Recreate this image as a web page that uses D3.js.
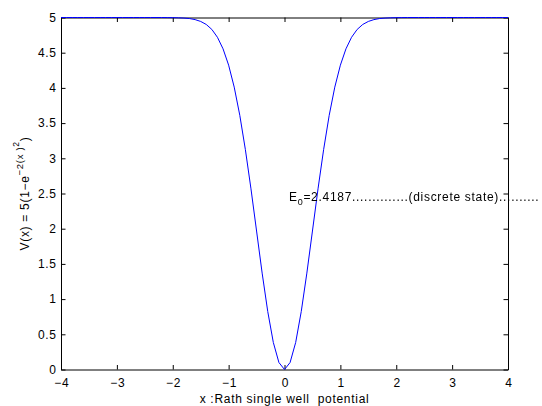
<!DOCTYPE html>
<html>
<head>
<meta charset="utf-8">
<script src="https://cdn.jsdelivr.net/npm/d3@7"></script>
<style>
  html, body { margin: 0; padding: 0; background: #fff; }
  #chart { position: relative; width: 542px; height: 406px; }
  svg { display: block; position: absolute; left: 0; top: 0; }
  svg.overlay { will-change: transform; }
  text { font-family: "Liberation Sans", Arial, Helvetica, sans-serif; letter-spacing: 0.7px; }
</style>
</head>
<body>
<div id="chart"></div>
<script>
// ---- data ----
const xValues = [
  -4.0,-3.9,-3.8,-3.7,-3.6,-3.5,-3.4,-3.3,-3.2,-3.1,
  -3.0,-2.9,-2.8,-2.7,-2.6,-2.5,-2.4,-2.3,-2.2,-2.1,
  -2.0,-1.9,-1.8,-1.7,-1.6,-1.5,-1.4,-1.3,-1.2,-1.1,
  -1.0,-0.9,-0.8,-0.7,-0.6,-0.5,-0.4,-0.3,-0.2,-0.1,
   0.0,
   0.1, 0.2, 0.3, 0.4, 0.5, 0.6, 0.7, 0.8, 0.9, 1.0,
   1.1, 1.2, 1.3, 1.4, 1.5, 1.6, 1.7, 1.8, 1.9, 2.0,
   2.1, 2.2, 2.3, 2.4, 2.5, 2.6, 2.7, 2.8, 2.9, 3.0,
   3.1, 3.2, 3.3, 3.4, 3.5, 3.6, 3.7, 3.8, 3.9, 4.0
];
const vValues = [
  5.000,5.000,5.000,5.000,5.000,5.000,5.000,5.000,5.000,5.000,
  5.000,5.000,5.000,5.000,5.000,5.000,5.000,5.000,5.000,4.999,
  4.998,4.996,4.992,4.985,4.970,4.944,4.901,4.830,4.719,4.555,
  4.323,4.011,3.610,3.123,2.566,1.967,1.369,0.824,0.384,0.099,
  0.000,
  0.099,0.384,0.824,1.369,1.967,2.566,3.123,3.610,4.011,4.323,
  4.555,4.719,4.830,4.901,4.944,4.970,4.985,4.992,4.996,4.998,
  4.999,5.000,5.000,5.000,5.000,5.000,5.000,5.000,5.000,5.000,
  5.000,5.000,5.000,5.000,5.000,5.000,5.000,5.000,5.000,5.000
];
const xTicks = [-4, -3, -2, -1, 0, 1, 2, 3, 4];
const yTicks = [0, 0.5, 1, 1.5, 2, 2.5, 3, 3.5, 4, 4.5, 5];
const E0 = 2.4187;
const E0LabelX = 0.08;

// ---- layout ----
const W = 542, H = 406;
const m = { left: 61, right: 34, top: 17.5, bottom: 36.5 };
const iw = W - m.left - m.right, ih = H - m.top - m.bottom;

const svg = d3.select("#chart").append("svg").attr("width", W).attr("height", H);
const g = svg.append("g").attr("transform", `translate(${m.left},${m.top})`);

const x = d3.scaleLinear().domain([-4, 4]).range([0, iw]);
const y = d3.scaleLinear().domain([0, 5]).range([ih, 0]);

const fmt = d => String(d).replace("-", "\u2212");
const fs = "12px";
const tickLen = 4.5;

// bottom axis
const gx = g.append("g").attr("transform", `translate(0,${ih})`)
  .call(d3.axisBottom(x).tickValues(xTicks).tickFormat(fmt).tickSizeInner(-tickLen).tickSizeOuter(0).tickPadding(8.5));
// top axis
const gxt = g.append("g")
  .call(d3.axisTop(x).tickValues(xTicks).tickFormat("").tickSizeInner(-tickLen).tickSizeOuter(0));
// left axis
const gy = g.append("g")
  .call(d3.axisLeft(y).tickValues(yTicks).tickFormat(fmt).tickSizeInner(-tickLen).tickSizeOuter(0).tickPadding(4.3));
// right axis
const gyr = g.append("g").attr("transform", `translate(${iw},0)`)
  .call(d3.axisRight(y).tickValues(yTicks).tickFormat("").tickSizeInner(-tickLen).tickSizeOuter(0));

[gx, gxt, gy, gyr].forEach(a => {
  a.select(".domain").attr("stroke", "#000").attr("stroke-width", 1);
  a.selectAll(".tick line").attr("stroke", "#000").attr("stroke-width", 1);
  a.selectAll("text").attr("fill", "#000").style("font-size", fs)
    .style("font-family", '"Liberation Sans", Arial, sans-serif');
});
gx.selectAll("text").attr("dx", "0.35px");

// curve
const line = d3.line().x((d, i) => x(xValues[i])).y(d => y(d));
g.append("path").datum(vValues)
  .attr("fill", "none").attr("stroke", "#0000ff").attr("stroke-width", 1)
  .attr("d", line);

// x label
svg.append("text")
  .attr("x", m.left + iw / 2).attr("y", 403)
  .attr("text-anchor", "middle").style("font-size", fs).style("white-space", "pre")
  .text("x :Rath single well  potential");

// y label
const yl = svg.append("text")
  .attr("transform", `translate(28.5,${m.top + ih / 2}) rotate(-90)`)
  .attr("text-anchor", "middle").style("font-size", fs);
yl.append("tspan").text("V(x) = 5(1\u2212e");
yl.append("tspan").attr("dy", -5.5).style("font-size", "9.5px").text("\u22122(x )");
yl.append("tspan").attr("dy", -4).style("font-size", "8.5px").text("2");
yl.append("tspan").attr("dy", 9.5).text(")");

// E0 annotation on a transparent overlay layer
const ov = d3.select("#chart").append("svg").attr("class", "overlay")
  .attr("width", W).attr("height", H);
const ann = ov.append("g").attr("transform", `translate(${m.left},${m.top})`)
  .append("text")
  .attr("x", x(E0LabelX)).attr("y", y(E0) + 1.5)
  .style("font-size", fs).attr("fill", "#000");
ann.append("tspan").text("E");
ann.append("tspan").attr("dy", 4.5).style("font-size", "9px").text("0");
ann.append("tspan").attr("dy", -4.5).text("=" + E0 + "..............(discrete state)..........");
</script>
</body>
</html>
